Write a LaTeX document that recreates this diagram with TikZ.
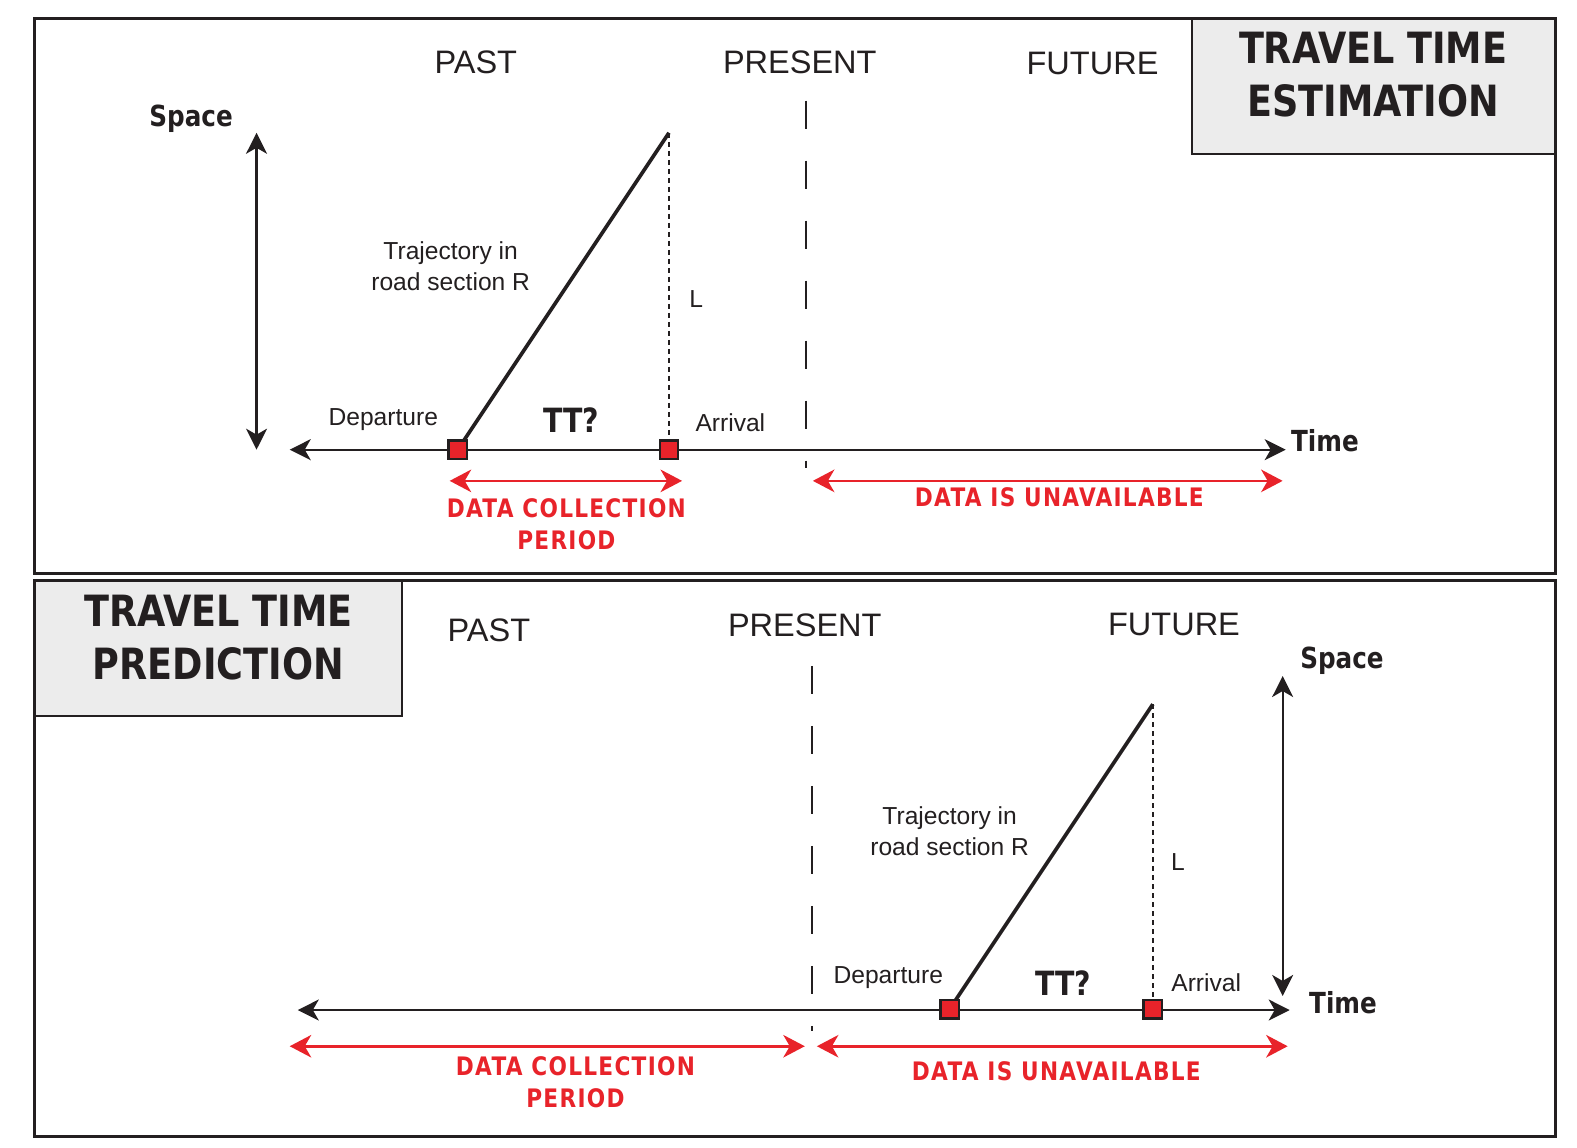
\documentclass[tikz,border=0pt]{standalone}
\usepackage{fontspec}
\setmainfont{Liberation Sans}
\newfontfamily\condbf{DejaVu Sans}[FakeStretch=0.85]
\newfontfamily\redbf{DejaVu Sans}[FakeStretch=0.85, LetterSpace=5]
\usepackage{tikz}
\usetikzlibrary{arrows.meta,positioning}

\definecolor{ink}{HTML}{231F20}
\definecolor{datared}{HTML}{E8232A}
\definecolor{boxgray}{HTML}{ECECEC}

\begin{document}
\begin{tikzpicture}[x=0.2012mm, y=-0.2012mm, color=ink,
  panel/.style={draw=ink, line width=1.7pt},
  titlebox/.style={draw=ink, line width=1.2pt, fill=boxgray},
  title/.style={font=\condbf\bfseries\fontsize{24.5}{30}\selectfont, align=center},
  era/.style={font=\fontsize{18.5}{22}\selectfont},
  small/.style={font=\fontsize{14}{17.6}\selectfont, align=center},
  axlabel/.style={font=\condbf\bfseries\fontsize{16.5}{20}\selectfont},
  ttlabel/.style={font=\condbf\bfseries\fontsize{19}{22}\selectfont},
  redlabel/.style={font=\redbf\bfseries\fontsize{14.5}{18}\selectfont, text=datared, align=center},
  axis/.style={line width=1.3pt, {Stealth[length=4.2mm,width=4.2mm,inset=1.2mm]}-{Stealth[length=4.2mm,width=4.2mm,inset=1.2mm]}},
  redaxis/.style={draw=datared, line width=1.5pt, {Stealth[length=4.3mm,width=4.5mm,inset=1.3mm]}-{Stealth[length=4.3mm,width=4.5mm,inset=1.3mm]}},
  traj/.style={line width=2.1pt},
  dotline/.style={line width=1.2pt, dash pattern=on 1mm off 0.8mm},
  present/.style={line width=1.4pt, dash pattern=on 5.6mm off 6.4mm},
  stopbox/.style={draw=ink, fill=datared, line width=1.4pt, minimum size=3.7mm, inner sep=0pt}]
  \useasboundingbox (0,0) rectangle (1567.6,1140.2);

  \def\drawTrip#1#2#3#4#5{% departure x, arrival x, top y, axis y, name prefix
    \coordinate (#5dep) at (#1,#4);
    \coordinate (#5arr) at (#2,#4);
    \coordinate (#5top) at (#2,#3);
    \draw[traj] (#5dep) -- (#5top);
    \draw[dotline] (#5top) -- (#5arr);
    \node[stopbox] (#5depbox) at (#5dep) {};
    \node[stopbox] (#5arrbox) at (#5arr) {};
  }

  % Title boxes, then the two panels
  \draw[titlebox] (1185,18) rectangle (1546,153);
  \draw[titlebox] (34,577) rectangle (400,712);
  \draw[panel] (34,18) rectangle (1546,570);
  \draw[panel] (34,577) rectangle (1546,1130);
  \node[title] (estTitle) at (1365,74) {TRAVEL TIME\\ESTIMATION};
  \node[title] (predTitle) at (217,634) {TRAVEL TIME\\PREDICTION};

  % PAST / PRESENT / FUTURE
  \foreach \name/\x/\y/\txt in {ePast/473/62/PAST, ePresent/795/62/PRESENT,
      eFuture/1086/63/FUTURE, pPast/486/627/PAST, pPresent/800/622/PRESENT,
      pFuture/1167/621/FUTURE} {
    \node[era] (\name) at (\x,\y) {\txt};
  }

  % Estimation (top)
  \coordinate (eAxL) at (288,447);
  \coordinate (eAxR) at (1278,447);
  \draw[axis] (eAxL) -- (eAxR);
  \node[axlabel] (eTime) at (1317,438) {Time};
  \coordinate (eSpTop) at (255,132);
  \coordinate (eSpBot) at (255,447);
  \draw[axis] (eSpBot) -- (eSpTop);
  \node[axlabel] (eSpace) at (190,118) {Space};
  \coordinate (eNowTop) at (801,100);
  \coordinate (eNowBot) at (801,465);
  \draw[present] (eNowTop) -- (eNowBot);
  \drawTrip{455}{665}{132}{447}{e}
  \node[small] (eTraj) at (448,265) {Trajectory in\\road section R};
  \node[small] (eL) at (692,297) {L};
  \node[small] (eDepText) at (381,417) {Departure};
  \node[ttlabel] (eTT) at (568,418) {TT?};
  \node[small] (eArrText) at (726,420) {Arrival};
  \coordinate (eColL) at (447,478);
  \coordinate (eColR) at (678,478);
  \draw[redaxis] (eColL) -- (eColR);
  \node[redlabel] (eColText) at (563,521) {DATA COLLECTION\\PERIOD};
  \coordinate (eNaL) at (808,478);
  \coordinate (eNaR) at (1275,478);
  \draw[redaxis] (eNaL) -- (eNaR);
  \node[redlabel] (eNaText) at (1053,494) {DATA IS UNAVAILABLE};

  % Prediction (bottom)
  \coordinate (pAxL) at (296,1004);
  \coordinate (pAxR) at (1282,1004);
  \draw[axis] (pAxL) -- (pAxR);
  \node[axlabel] (pTime) at (1335,997) {Time};
  \coordinate (pSpTop) at (1275,672);
  \coordinate (pSpBot) at (1275,990);
  \draw[axis] (pSpBot) -- (pSpTop);
  \node[axlabel] (pSpace) at (1334,657) {Space};
  \coordinate (pNowTop) at (807,662);
  \coordinate (pNowBot) at (807,1025);
  \draw[present] (pNowTop) -- (pNowBot);
  \drawTrip{944}{1146}{700}{1003}{p}
  \node[small] (pTraj) at (944,826) {Trajectory in\\road section R};
  \node[small] (pL) at (1171,857) {L};
  \node[small] (pDepText) at (883,972) {Departure};
  \node[ttlabel] (pTT) at (1057,977) {TT?};
  \node[small] (pArrText) at (1199,977) {Arrival};
  \coordinate (pColL) at (288,1040);
  \coordinate (pColR) at (800,1040);
  \draw[redaxis] (pColL) -- (pColR);
  \node[redlabel] (pColText) at (572,1076) {DATA COLLECTION\\PERIOD};
  \coordinate (pNaL) at (812,1040);
  \coordinate (pNaR) at (1280,1040);
  \draw[redaxis] (pNaL) -- (pNaR);
  \node[redlabel] (pNaText) at (1050,1065) {DATA IS UNAVAILABLE};
\end{tikzpicture}
\end{document}
